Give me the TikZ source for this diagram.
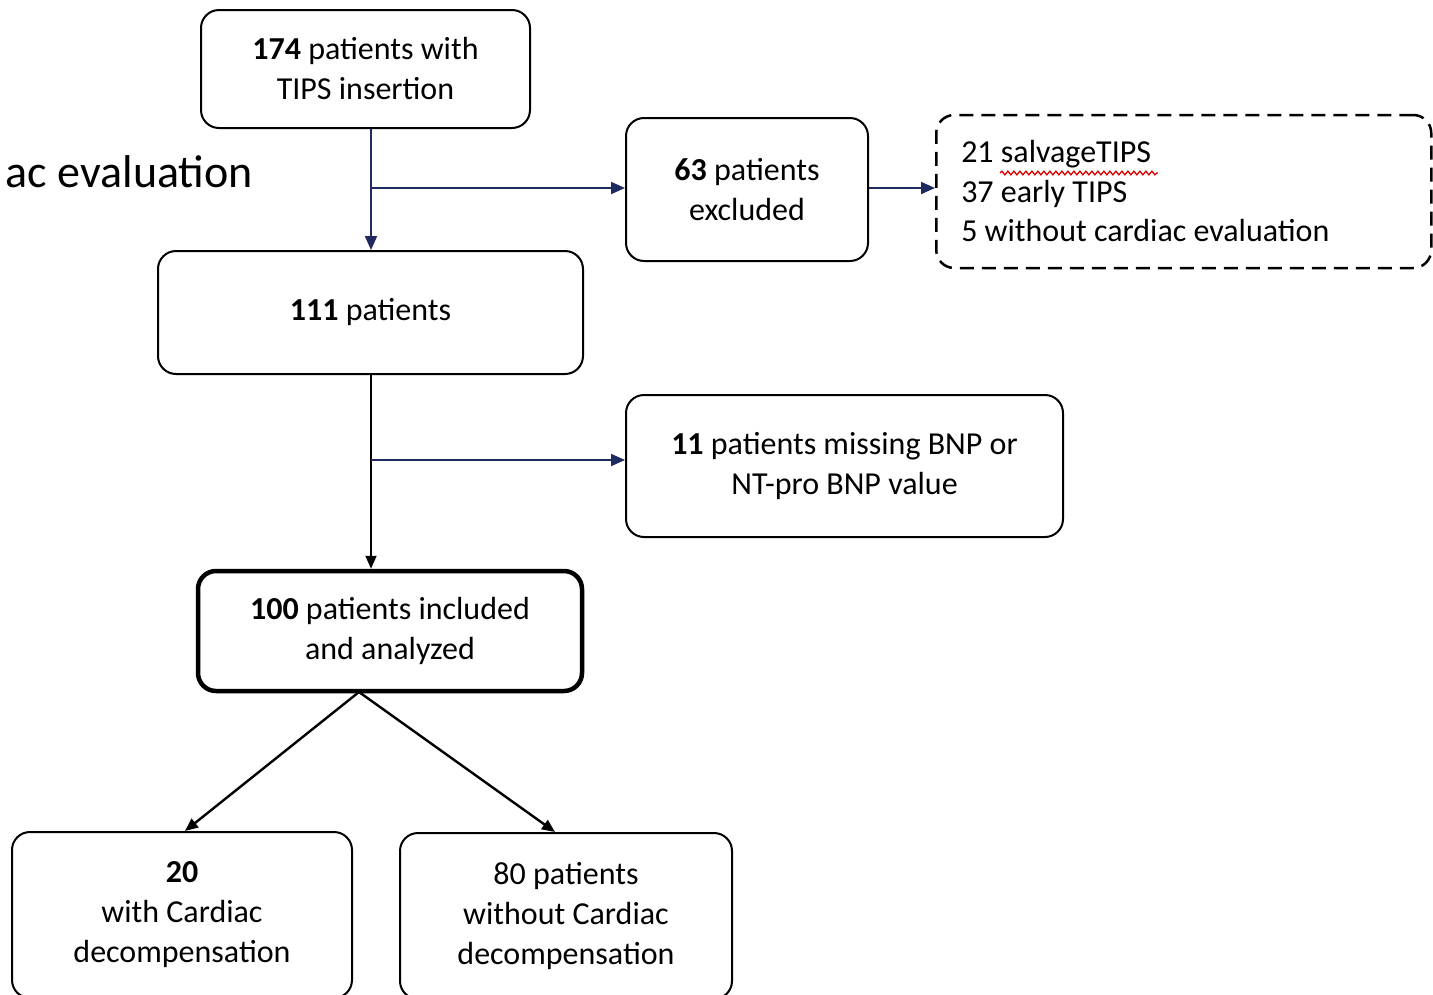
\documentclass[tikz,border=0pt]{standalone}
\usepackage{fontspec}
\setmainfont{Carlito}
\usetikzlibrary{arrows.meta,decorations.pathmorphing}
\definecolor{navyline}{RGB}{30,42,96}
\tikzset{
  box/.style={draw, rounded corners=18pt, line width=2pt, align=center,
    font=\fontsize{32}{40}\selectfont, inner sep=0pt},
  thickbox/.style={box, line width=4.5pt},
  dashbox/.style={draw, rounded corners=18pt, line width=2.5pt,
    dash pattern=on 14pt off 8pt, align=flush left,
    font=\fontsize{32}{39.5}\selectfont, inner xsep=25pt, inner ysep=0pt},
  navylink/.style={navyline, line width=2pt, -{Triangle[length=14pt,width=12pt]}},
  plainlink/.style={black, line width=1.6pt, -{Triangle[length=13pt,width=11pt]}},
  forklink/.style={black, line width=2.4pt, -{Triangle[length=13pt,width=11pt]}},
}
\begin{document}
\begin{tikzpicture}[x=1pt,y=-1pt]
  \clip (0,0) rectangle (1433,994);
  % left-over text
  \node [anchor=east, font=\fontsize{46}{50}\selectfont, inner sep=0pt] (cut) at (253,172) {ac evaluation};
  % boxes
  \node [box, minimum width=329pt, minimum height=118pt] (start) at (365.5,69) {\textbf{174} patients with\\TIPS insertion};
  \node [box, minimum width=425pt, minimum height=123pt] (mid) at (370.5,312.5) {\textbf{111} patients};
  \node [box, minimum width=242pt, minimum height=143pt] (excl) at (747,189.5) {\textbf{63} patients\\excluded};
  \node [dashbox, anchor=west, text width=445pt, minimum height=153pt] (reasons) at (935,191.5)
    {21 salvageTIPS\\37 early TIPS\\5 without cardiac evaluation};
  \node [box, minimum width=437pt, minimum height=142pt] (missing) at (844.5,466) {\textbf{11} patients missing BNP or\\NT-pro BNP value};
  \node [thickbox, minimum width=384pt, minimum height=120pt] (final) at (390,631) {\textbf{100} patients included\\and analyzed};
  \node [box, minimum width=340pt, minimum height=166pt] (withcd) at (182,915) {\textbf{20}\\with Cardiac\\decompensation};
  \node [box, minimum width=332pt, minimum height=166pt] (without) at (566,916) {80 patients\\without Cardiac\\decompensation};
  % spell-check mark
  \draw [red!85!black, line width=1.3pt, decorate, decoration={snake, amplitude=1.8pt, segment length=6pt}] (1000,173) -- (1158,173);
  % connectors
  \coordinate (split1) at (371,188);
  \coordinate (split2) at (371,460);
  \coordinate (fork) at (359,692);
  \draw [navylink] (start.south -| split1) -- (mid.north -| split1);
  \draw [navylink] (split1) -- (excl.west |- split1);
  \draw [navylink] (excl.east |- split1) -- (reasons.west |- split1);
  \draw [plainlink] (mid.south -| split2) -- (final.north -| split2);
  \draw [navylink] (split2) -- (missing.west |- split2);
  \draw [forklink] (fork) -- ([xshift=3pt]withcd.north);
  \draw [forklink] (fork) -- ([xshift=-11pt]without.north);
\end{tikzpicture}
\end{document}
